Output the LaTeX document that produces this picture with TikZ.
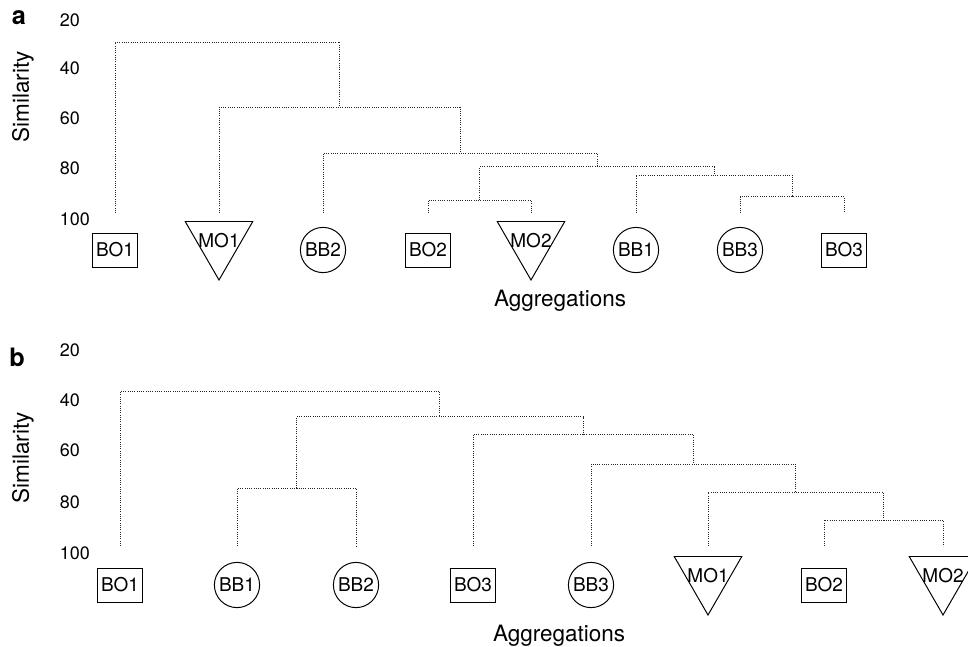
\documentclass[tikz,border=0pt]{standalone}
\usepackage{fontspec}
\setmainfont{TeX Gyre Heros}
\usetikzlibrary{shapes.geometric}

\tikzset{
  link/.style={densely dotted, line width=0.6pt, black!85},
  leaftext/.style={font=\fontsize{13.5}{15}\selectfont},
  leaf/.style={draw, line width=0.7pt, inner sep=0pt, leaftext},
  boxleaf/.style={leaf, minimum width=1.125cm, minimum height=0.85cm},
  circleaf/.style={leaf, circle, minimum size=1.13cm},
  trileaf/.style={leaf, regular polygon, regular polygon sides=3, shape border rotate=180, minimum size=1.95cm},
  tick/.style={anchor=west, font=\fontsize{12.8}{14}\selectfont},
  axlabel/.style={font=\fontsize{16}{18}\selectfont},
  panel/.style={font=\fontsize{18}{20}\selectfont\bfseries}
}

\begin{document}
\begin{tikzpicture}[x=0.025cm, y=-0.025cm]
		\useasboundingbox (0,0) rectangle (968,646);
		
		%%%%% PANEL A %%%%%
		
		\node[panel] (atag) at (19,18) {a};
		\node[axlabel, rotate=90] (asim) at (23,97) {Similarity};
		\foreach \s/\y in {20/20, 40/68, 60/118, 80/168, 100/219}
			\node[tick] at (55,\y) {\s};
		
		\node[boxleaf] (aBO1) at (115,250) {BO1};
		\node[trileaf, label={[leaftext]center:MO1}] (aMO1) at (219,241) {};
		\node[circleaf] (aBB2) at (323,250) {BB2};
		\node[boxleaf] (aBO2) at (428,250) {BO2};
		\node[trileaf, label={[leaftext]center:MO2}] (aMO2) at (531,241) {};
		\node[circleaf] (aBB1) at (636,250) {BB1};
		\node[circleaf] (aBB3) at (740,250) {BB3};
		\node[boxleaf] (aBO3) at (844,250) {BO3};
		\node[axlabel] (aagg) at (560,301) {Aggregations};
		
		\foreach \n in {BO1,MO1,BB2,BO2,MO2,BB1,BB3,BO3}
			\coordinate (t-a\n) at (a\n |- 0,213);
		
		\coordinate (aj1) at (479.5,200);
		\coordinate (aj2) at (792,196.7);
		\coordinate (aj3) at (714,175);
		\coordinate (aj4) at (597,166.7);
		\coordinate (aj5) at (460,153);
		\coordinate (aj6) at (339.5,107);
		\coordinate (aj7) at (227,42);
		
		\draw[link] (t-aBO2) |- (aj1) -| (t-aMO2);
		\draw[link] (t-aBB3) |- (aj2) -| (t-aBO3);
		\draw[link] (t-aBB1) |- (aj3) -| (aj2);
		\draw[link] (aj1) |- (aj4) -| (aj3);
		\draw[link] (t-aBB2) |- (aj5) -| (aj4);
		\draw[link] (t-aMO1) |- (aj6) -| (aj5);
		\draw[link] (t-aBO1) |- (aj7) -| (aj6);
		
		%%%%% PANEL B %%%%%
		
		\node[panel] (btag) at (17,357) {b};
		\node[axlabel, rotate=90] (bsim) at (23,458) {Similarity};
		\foreach \s/\y in {20/350, 40/400, 60/450, 80/502, 100/553}
			\node[tick] at (55,\y) {\s};
		
		\node[boxleaf] (bBO1) at (120,585) {BO1};
		\node[circleaf] (bBB1) at (237,585) {BB1};
		\node[circleaf] (bBB2) at (356,585) {BB2};
		\node[boxleaf] (bBO3) at (473,585) {BO3};
		\node[circleaf] (bBB3) at (591,585) {BB3};
		\node[trileaf, label={[leaftext]center:MO1}] (bMO1) at (708,576) {};
		\node[boxleaf] (bBO2) at (824,585) {BO2};
		\node[trileaf, label={[leaftext]center:MO2}] (bMO2) at (943,576) {};
		\node[axlabel] (bagg) at (559,636) {Aggregations};
		
		\foreach \n in {BO1,BB1,BB2,BO3,BB3,MO1,BO2,MO2}
			\coordinate (t-b\n) at (b\n |- 0,546);
		
		\coordinate (bj1) at (296.5,488.3);
		\coordinate (bj2) at (883.5,520);
		\coordinate (bj3) at (795.8,492.3);
		\coordinate (bj4) at (693.4,464.3);
		\coordinate (bj5) at (583.2,434.3);
		\coordinate (bj6) at (439.9,416.7);
		\coordinate (bj7) at (280,391.7);
		
		\draw[link] (t-bBB1) |- (bj1) -| (t-bBB2);
		\draw[link] (t-bBO2) |- (bj2) -| (t-bMO2);
		\draw[link] (t-bMO1) |- (bj3) -| (bj2);
		\draw[link] (t-bBB3) |- (bj4) -| (bj3);
		\draw[link] (t-bBO3) |- (bj5) -| (bj4);
		\draw[link] (bj1) |- (bj6) -| (bj5);
		\draw[link] (t-bBO1) |- (bj7) -| (bj6);
		
	\end{tikzpicture}
\end{document}
